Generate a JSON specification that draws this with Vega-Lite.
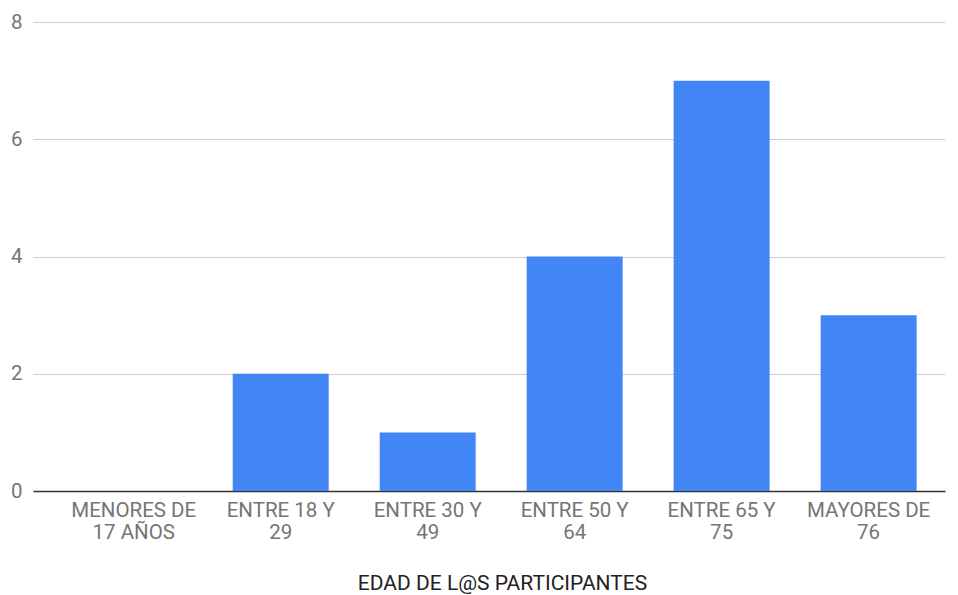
{
  "$schema": "https://vega.github.io/schema/vega-lite/v6.json",
  "autosize": "none",
  "width": 912,
  "height": 469,
  "padding": {"left": 33, "top": 22, "right": 13, "bottom": 104},
  "background": "white",
  "data": {
    "values": [
      {"edad": "MENORES DE 17 AÑOS", "n": 0},
      {"edad": "ENTRE 18 Y 29", "n": 2},
      {"edad": "ENTRE 30 Y 49", "n": 1},
      {"edad": "ENTRE 50 Y 64", "n": 4},
      {"edad": "ENTRE 65 Y 75", "n": 7},
      {"edad": "MAYORES DE 76", "n": 3}
    ]
  },
  "mark": {"type": "bar", "color": "#4285F4"},
  "encoding": {
    "x": {
      "field": "edad",
      "type": "nominal",
      "sort": null,
      "scale": {"paddingInner": 0.347, "paddingOuter": 0.276, "align": 0.65},
      "axis": {
        "title": "EDAD DE L@S PARTICIPANTES",
        "titleFont": "Roboto",
        "titleFontSize": 21,
        "titleFontWeight": "normal",
        "titleColor": "#222222",
        "titlePadding": 30,
        "titleX": 469,
        "titleAlign": "center",
        "labelAngle": 0,
        "labelFont": "Roboto",
        "labelFontSize": 20.5,
        "labelColor": "#757575",
        "labelPadding": 9,
        "labelLineHeight": 22,
        "labelExpr": "datum.label == 'MENORES DE 17 AÑOS' ? ['MENORES DE', '17 AÑOS'] : [slice(datum.label, 0, lastindexof(datum.label, ' ')), slice(datum.label, lastindexof(datum.label, ' ') + 1)]",
        "ticks": false,
        "domain": true,
        "domainColor": "#333333",
        "domainWidth": 1.5,
        "grid": false
      }
    },
    "y": {
      "field": "n",
      "type": "quantitative",
      "scale": {"domain": [0, 8]},
      "axis": {
        "title": null,
        "values": [0, 2, 4, 6, 8],
        "labelFont": "Roboto",
        "labelFontSize": 20.5,
        "labelColor": "#757575",
        "labelPadding": 11,
        "ticks": false,
        "domain": false,
        "gridColor": "#cccccc",
        "gridWidth": 1
      }
    }
  },
  "config": {"view": {"stroke": null}}
}
